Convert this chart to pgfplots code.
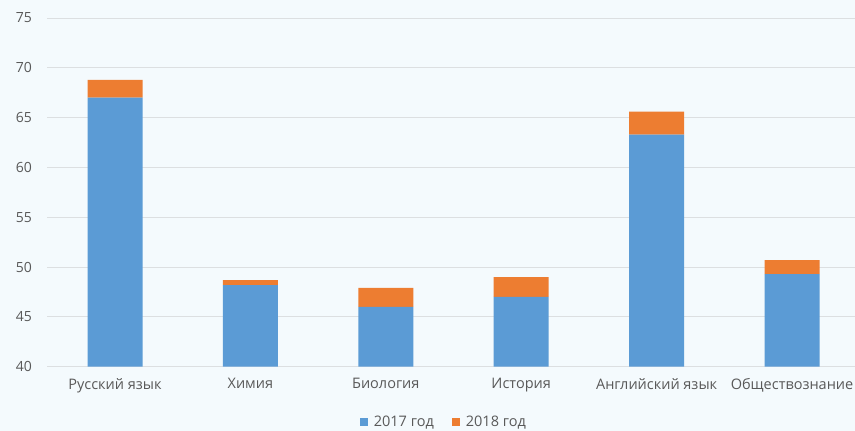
\documentclass[border=0pt]{standalone}
\usepackage{pgfplots}
\pgfplotsset{compat=1.18}
\usepackage{fontspec}
\setmainfont{Open Sans}
\definecolor{bgc}{HTML}{F4FAFD}
\definecolor{blueb}{HTML}{5B9BD5}
\definecolor{orangeb}{HTML}{ED7D31}
\definecolor{gridc}{HTML}{DCDFE1}
\definecolor{txt}{HTML}{595959}
\begin{document}
\begin{tikzpicture}
\fill[bgc] (-47.3pt,-64.3pt) rectangle (807.7pt,366.7pt);
\clip (-47.3pt,-64.3pt) rectangle (807.7pt,366.7pt);
\begin{axis}[
  scale only axis,
  width=807.7pt, height=348.7pt,
  ybar stacked, bar width=55pt,
  xmin=-0.5, xmax=5.465,
  ymin=40, ymax=75,
  ytick={40,45,...,75},
  xtick={0,1,2,3,4,5},
  xticklabels={Русский язык,Химия,Биология,История,Английский язык,Обществознание},
  axis line style={draw=none},
  major tick length=0pt,
  ymajorgrids, grid style={gridc, line width=0.9pt},
  tick label style={text=txt},
  /pgf/number format/assume math mode=true,
  yticklabel style={xshift=-12pt, font=\fontsize{14}{16}\selectfont},
  xticklabel style={yshift=-8pt, font=\fontsize{14.5}{16}\selectfont},
  legend style={at={(0.491,-0.159)}, anchor=center, draw=none, fill=none,
    legend columns=2, font=\fontsize{14.5}{16}\selectfont, text=txt,
    /tikz/every odd column/.append style={column sep=4pt},
    /tikz/every even column/.append style={column sep=16pt}},
  legend image code/.code={\fill[#1] (0pt,-4pt) rectangle (8pt,4pt);},
]
\addplot[fill=blueb, draw=none] coordinates {(0,67.0) (1,48.2) (2,46.0) (3,47.0) (4,63.3) (5,49.3)};
\addplot[fill=orangeb, draw=none] coordinates {(0,1.8) (1,0.5) (2,1.9) (3,2.0) (4,2.3) (5,1.4)};
\legend{2017 год, 2018 год}
\end{axis}
\end{tikzpicture}
\end{document}
